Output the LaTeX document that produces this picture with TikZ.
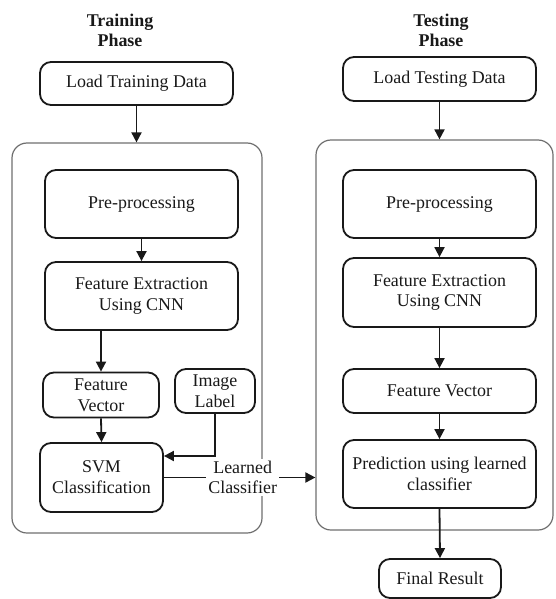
\documentclass[tikz,border=0pt]{standalone}
\usepackage{fontspec}
\setmainfont{Liberation Serif}
\usetikzlibrary{arrows.meta,calc}
\definecolor{ink}{RGB}{25,25,25}
\definecolor{frame}{RGB}{110,110,110}
\begin{document}
\begin{tikzpicture}[x=1bp,y=-1bp,
  box/.style={draw=ink,line width=1.8bp,rounded corners=11bp,fill=white,align=center,
    inner sep=0pt,font=\fontsize{18}{21}\selectfont,text=ink},
  phase/.style={draw=frame,line width=1.2bp,rounded corners=15bp,inner sep=0pt},
  ttl/.style={font=\fontsize{18}{20}\selectfont\bfseries,align=center,text=ink},
  arr/.style={draw=ink,line width=1.8bp,-{Triangle[length=10bp,width=10bp]}}]
\useasboundingbox (0,0) rectangle (556,599);
% titles
\node[ttl] (t1) at (120,30) {Training\\Phase};
\node[ttl] (t2) at (441,30) {Testing\\Phase};
% phase frames
\node[phase,minimum width=250bp,minimum height=390bp] (tbig) at (137,338) {};
\node[phase,minimum width=237bp,minimum height=390bp] (rbig) at (434.5,335) {};
% training
\node[box,minimum width=193bp,minimum height=43bp] (ltd) at (136.5,83.5) {Load Training Data};
\node[box,minimum width=193bp,minimum height=68bp] (pre1) at (141.5,204) {Pre-processing};
\node[box,minimum width=193bp,minimum height=68bp] (fe1) at (141.5,296) {Feature Extraction\\Using CNN};
\node[box,minimum width=116bp,minimum height=45bp] (fv1) at (101,395) {Feature\\Vector};
\node[box,minimum width=80bp,minimum height=44bp] (il) at (215,391) {Image\\Label};
\node[box,minimum width=123bp,minimum height=69bp] (svm) at (101.5,477.5) {SVM\\Classification};
% testing
\node[box,minimum width=193bp,minimum height=44bp] (ltest) at (439.5,79) {Load Testing Data};
\node[box,minimum width=193bp,minimum height=68bp] (pre2) at (439.5,204) {Pre-processing};
\node[box,minimum width=193bp,minimum height=69bp] (fe2) at (439.5,292.5) {Feature Extraction\\Using CNN};
\node[box,minimum width=193bp,minimum height=44bp] (fv2) at (439.5,391) {Feature Vector};
\node[box,minimum width=193bp,minimum height=68bp] (pred) at (439.5,474) {Prediction using learned\\classifier};
\node[box,minimum width=122bp,minimum height=39bp] (fr) at (440,578.5) {Final Result};
% arrows training
\draw[arr] (ltd.south) -- (ltd.south |- tbig.north);
\draw[arr] (pre1.south) -- (fe1.north);
\draw[arr] (fv1.north |- fe1.south) -- (fv1.north);
\draw[arr] (fv1.south) -- (svm.north);
\draw[arr] (il.south) |- ([yshift=21.5bp]svm.east);
\draw[arr] (svm.east) -- (svm.east -| rbig.west)
  node[pos=0.52,fill=white,inner sep=2bp,align=center,text=ink,font=\fontsize{18}{20}\selectfont] (lc) {Learned\\Classifier};
% arrows testing
\draw[arr] (ltest.south) -- (ltest.south |- rbig.north);
\draw[arr] (pre2.south) -- (fe2.north);
\draw[arr] (fe2.south) -- (fv2.north);
\draw[arr] (fv2.south) -- (pred.north);
\draw[arr] (pred.south) -- (fr.north);
\end{tikzpicture}
\end{document}
